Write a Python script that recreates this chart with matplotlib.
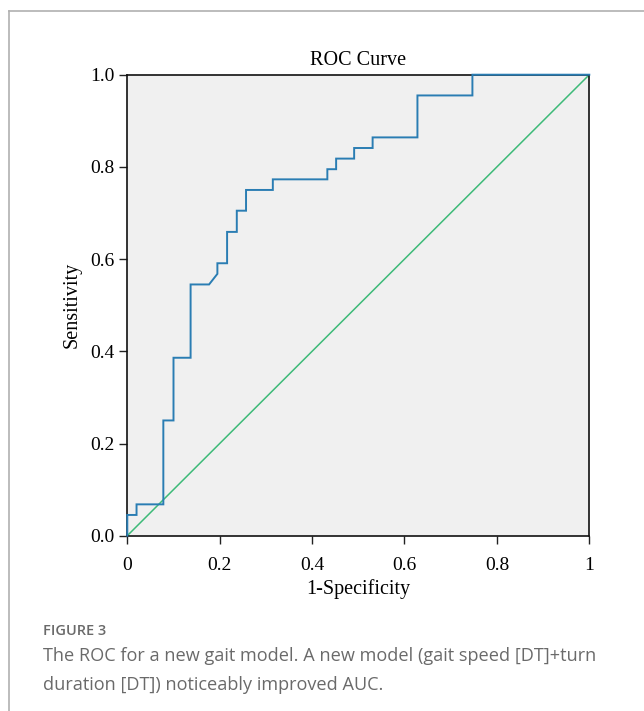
import matplotlib
matplotlib.use("Agg")
import matplotlib.pyplot as plt
from matplotlib.lines import Line2D

# ROC curve vertices
fpr = [0.0, 0.0, 0.020, 0.020, 0.078, 0.078, 0.100, 0.100, 0.137, 0.137, 0.177,
       0.195, 0.195, 0.216, 0.216, 0.237, 0.237, 0.257, 0.257, 0.315, 0.315,
       0.433, 0.433, 0.452, 0.452, 0.491, 0.491, 0.531, 0.531, 0.628, 0.628,
       0.747, 0.747, 1.0]
tpr = [0.0, 0.045, 0.045, 0.068, 0.068, 0.250, 0.250, 0.386, 0.386, 0.545, 0.545,
       0.568, 0.591, 0.591, 0.659, 0.659, 0.705, 0.705, 0.750, 0.750, 0.773,
       0.773, 0.795, 0.795, 0.818, 0.818, 0.841, 0.841, 0.864, 0.864, 0.955,
       0.955, 1.0, 1.0]
ref_x = [0.0, 1.0]
ref_y = [0.0, 1.0]

xticks = [0, 0.2, 0.4, 0.6, 0.8, 1]
xticklabels = ["0", "0.2", "0.4", "0.6", "0.8", "1"]
yticks = [0.0, 0.2, 0.4, 0.6, 0.8, 1.0]
yticklabels = ["0.0", "0.2", "0.4", "0.6", "0.8", "1.0"]

W, H = 644, 711
fig = plt.figure(figsize=(W / 100, H / 100), dpi=100)
fig.patch.set_facecolor("white")

serif = ["Liberation Serif", "DejaVu Serif"]

ax = fig.add_axes([127.3 / W, 1 - 535.7 / H, 462 / W, 461 / H])
ax.set_facecolor("#f0f0f0")
ax.plot(ref_x, ref_y, color="#3dba78", lw=1.1, zorder=2)
ax.plot(fpr, tpr, color="#2a7db3", lw=1.4, zorder=4, solid_joinstyle="miter",
        clip_on=False)
ax.set_xlim(0, 1)
ax.set_ylim(0, 1)
ax.set_xticks(xticks)
ax.set_xticklabels(xticklabels, fontfamily=serif, fontsize=14)
ax.set_yticks(yticks)
ax.set_yticklabels(yticklabels, fontfamily=serif, fontsize=14)
ax.tick_params(direction="out", length=6, width=1, color="#222222", pad=3)
ax.tick_params(axis="x", pad=9)
for s in ax.spines.values():
    s.set_color("#111111")
    s.set_linewidth(1.2)
    s.set_zorder(3)
ax.set_title("ROC Curve", fontfamily=serif, fontsize=14.5, pad=7)
ax.set_xlabel("1-Specificity", fontfamily=serif, fontsize=14.5, labelpad=4)
ax.set_ylabel("Sensitivity", fontfamily=serif, fontsize=14.5, labelpad=6)

# card border (left and top)
fig.add_artist(Line2D([8.5 / W, 8.5 / W], [0, 1 - 10.5 / H], transform=fig.transFigure,
                      color="#b0b0b0", lw=1.2))
fig.add_artist(Line2D([8.5 / W, 1], [1 - 10.5 / H, 1 - 10.5 / H], transform=fig.transFigure,
                      color="#b0b0b0", lw=1.2))

cap_font = ["Open Sans", "DejaVu Sans"]
fig.text(43 / W, 1 - 631 / H, "FIGURE 3", fontfamily=cap_font, fontsize=10.5,
         color="#6a6a6a", va="center", ha="left", fontweight="semibold")
fig.text(43 / W, 1 - 656 / H,
         "The ROC for a new gait model. A new model (gait speed [DT]+turn",
         fontfamily=cap_font, fontsize=13.1, color="#6a6a6a", va="center", ha="left")
fig.text(43 / W, 1 - 685 / H,
         "duration [DT]) noticeably improved AUC.",
         fontfamily=cap_font, fontsize=13.1, color="#6a6a6a", va="center", ha="left")

fig.savefig("out.png", dpi=100)
